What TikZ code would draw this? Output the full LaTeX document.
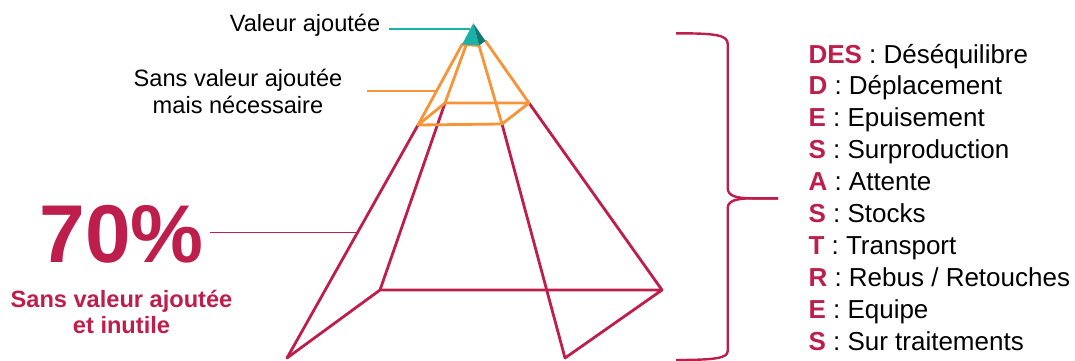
\documentclass[tikz,border=0pt]{standalone}
\usepackage{fontspec}
\setmainfont{Liberation Sans}
\definecolor{mag}{RGB}{190,30,75}
\definecolor{org}{RGB}{247,148,58}
\definecolor{tealA}{RGB}{26,178,168}
\definecolor{tealB}{RGB}{14,122,115}
\tikzset{
  magline/.style={draw=mag,line width=2.8pt,line join=round,line cap=round},
  orgline/.style={draw=org,line width=2.8pt,line join=round,line cap=round},
  callout/.style={line width=1.6pt},
  lbl/.style={inner sep=0pt,font=\fontsize{23.6}{27}\selectfont},
  item/.style={inner sep=0pt,anchor=base west,font=\fontsize{26}{30}\selectfont}
}
\begin{document}
\begin{tikzpicture}[x=1pt,y=-1pt]
\useasboundingbox (0,0) rectangle (1075,361);
% pyramid base
\coordinate (F1) at (287,358);
\coordinate (B1) at (380,290);
\coordinate (B2) at (662,290);
\coordinate (F2) at (565,358);
% orange frustum bottom
\coordinate (OFL) at (418,125);
\coordinate (OFR) at (502,124);
\coordinate (OBL) at (445,103);
\coordinate (OBR) at (529,103);
% orange frustum top
\coordinate (TFL) at (462,44.5);
\coordinate (TFR) at (479,45.5);
\coordinate (TBL) at (466,45.5);
\coordinate (TBR) at (485.5,41);
\coordinate (AP) at (473.3,23.3);
% magenta lower part
\draw[magline] (F1) -- (B1) -- (B2) -- (F2);
\draw[magline] (F1) -- (OFL);
\draw[magline] (B1) -- (OBL);
\draw[magline] (F2) -- (OFR);
\draw[magline] (B2) -- (OBR);
% orange frustum
\draw[orgline] (OFL) -- (OFR) -- (OBR) -- (OBL) -- cycle;
\draw[orgline] (OFL) -- (TFL);
\draw[orgline] (OBL) -- (TBL);
\draw[orgline] (OFR) -- (TFR);
\draw[orgline] (OBR) -- (TBR);
\draw[orgline] (TFL) -- (TFR);
% teal top
\fill[tealA] (AP) -- (TFL) -- (TFR) -- cycle;
\fill[tealB] (AP) -- (TFR) -- (TBR) -- cycle;
% labels
\node[lbl,anchor=base] (va) at (305,31.7) {Valeur ajoutée};
\coordinate (vaE) at (470.4,29);
\draw[tealA,callout] (389,29) -- (vaE);
\node[lbl,anchor=base,align=center] (sva) at (238,113.3) {Sans valeur ajoutée\\mais nécessaire};
\coordinate (svaE) at (436.5,91);
\draw[org,callout] (367,91) -- (svaE);
\node[inner sep=0pt,text=mag,font=\fontsize{82}{82}\selectfont\bfseries,anchor=base] (pc) at (121.5,262.5) {70\%};
\coordinate (pcE) at (357.5,232.3);
\draw[mag,callout] (210,232.3) -- (pcE);
\node[lbl,text=mag,font=\fontsize{23.6}{26}\selectfont\bfseries,anchor=base,align=center] (svi) at (121.5,333.3) {Sans valeur ajoutée\\et inutile};
% brace
\draw[mag,line width=2.4pt] (676,33.3) .. controls (716,33.3) and (727.7,35) .. (727.7,44)
  -- (727.7,188) .. controls (727.7,196) and (736,198.3) .. (752,198.3) -- (778,198.3);
\draw[mag,line width=2.4pt] (778,198.3) -- (752,198.3) .. controls (736,198.3) and (727.7,201) .. (727.7,208)
  -- (727.7,351) .. controls (727.7,358) and (716,360) .. (676,360);
% list
\node[item] (l1) at (808.3,63.3) {\textcolor{mag}{\bfseries DES} : Déséquilibre};
\node[item] (l2) at (808.3,94.8) {\textcolor{mag}{\bfseries D} : Déplacement};
\node[item] (l3) at (808.3,126.6) {\textcolor{mag}{\bfseries E} : Epuisement};
\node[item] (l4) at (808.3,158.4) {\textcolor{mag}{\bfseries S} : Surproduction};
\node[item] (l5) at (808.3,190.6) {\textcolor{mag}{\bfseries A} : Attente};
\node[item] (l6) at (808.3,222.6) {\textcolor{mag}{\bfseries S} : Stocks};
\node[item] (l7) at (808.3,254.4) {\textcolor{mag}{\bfseries T} : Transport};
\node[item] (l8) at (808.3,286.6) {\textcolor{mag}{\bfseries R} : Rebus / Retouches};
\node[item] (l9) at (808.3,318.4) {\textcolor{mag}{\bfseries E} : Equipe};
\node[item] (l10) at (808.3,350.2) {\textcolor{mag}{\bfseries S} : Sur traitements};
\end{tikzpicture}
\end{document}
